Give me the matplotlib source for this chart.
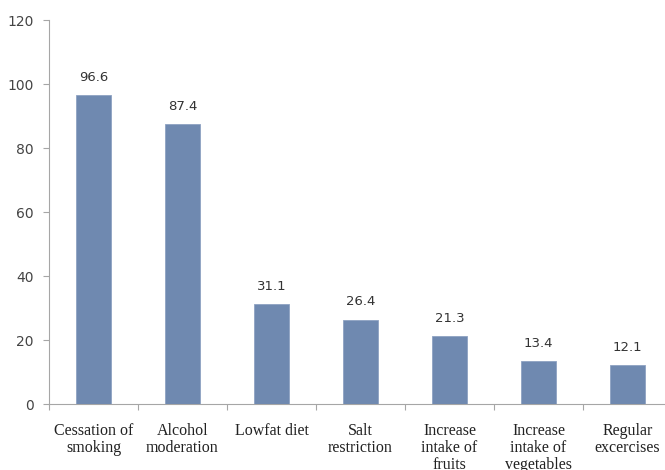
import matplotlib
matplotlib.use("Agg")
import matplotlib.pyplot as plt
import numpy as np

categories = ["Cessation of\nsmoking", "Alcohol\nmoderation", "Lowfat diet",
              "Salt\nrestriction", "Increase\nintake of\nfruits",
              "Increase\nintake of\nvegetables", "Regular\nexcercises"]
values = [96.6, 87.4, 31.1, 26.4, 21.3, 13.4, 12.1]
yticks = [0, 20, 40, 60, 80, 100, 120]

fig = plt.figure(figsize=(6.65, 4.7), dpi=100)
ax = fig.add_axes([49 / 665, 66 / 470, 623 / 665, 384 / 470])

x = np.arange(len(categories))
ax.bar(x, values, width=0.39, color="#6F89B0", edgecolor="#8EA2C2", linewidth=0.6, zorder=3)

for xi, v in zip(x, values):
    ax.annotate(f"{v:.1f}", (xi, v), xytext=(0, 8), textcoords="offset points",
                ha="center", va="bottom", fontsize=9.5, color="#333333",
                family="DejaVu Sans")

ax.set_xlim(-0.5, len(categories) - 0.5)
ax.set_ylim(0, 120)
ax.set_yticks(yticks)
ax.set_yticklabels([str(t) for t in yticks], fontsize=10, color="#444444")

ax.set_xticks(x)
ax.set_xticklabels(categories, fontsize=11.5, family="Liberation Serif", color="#222222",
                   linespacing=1.05)
ax.tick_params(axis="x", which="major", length=0, pad=14)
ax.set_xticks(np.arange(len(categories) + 1) - 0.5, minor=True)
ax.tick_params(axis="x", which="minor", length=4, color="#A6A6A6", width=0.8)
ax.tick_params(axis="y", length=4, color="#A6A6A6", width=0.8, pad=7)

for s in ["top", "right"]:
    ax.spines[s].set_visible(False)
for s in ["left", "bottom"]:
    ax.spines[s].set_color("#A6A6A6")
    ax.spines[s].set_linewidth(0.8)

fig.savefig("out.png", dpi=100)
